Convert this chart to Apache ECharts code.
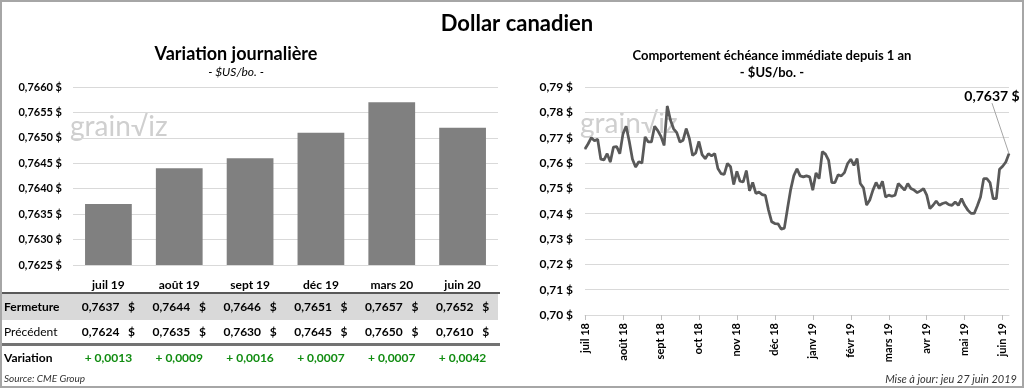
<!DOCTYPE html>
<html><head><meta charset="utf-8">
<script src="https://cdn.jsdelivr.net/npm/echarts@6/dist/echarts.min.js"></script>
<style>html,body{margin:0;padding:0;background:#fff}#c{width:1024px;height:388px}</style>
</head><body><div id="c"></div>
<script>
// ---- data ----
const contracts = ['juil 19', 'août 19', 'sept 19', 'déc 19', 'mars 20', 'juin 20'];
const closeValues = [0.7637, 0.7644, 0.7646, 0.7651, 0.7657, 0.7652];
const prevValues = [0.7624, 0.7635, 0.7630, 0.7645, 0.7650, 0.7610];
const variationValues = [0.0013, 0.0009, 0.0016, 0.0007, 0.0007, 0.0042];
const monthTicks = ['juil 18', 'août 18', 'sept 18', 'oct 18', 'nov 18', 'déc 18', 'janv 19', 'févr 19', 'mars 19', 'avr 19', 'mai 19', 'juin 19'];
const pointsPerMonth = 12;
const dailyValues = [
  0.7655, 0.7676, 0.7700, 0.7688, 0.7694, 0.7615, 0.7612, 0.7637, 0.7604, 0.7663,
  0.7665, 0.7637, 0.7715, 0.7745, 0.7685, 0.7615, 0.7584, 0.7605, 0.7600, 0.7703,
  0.7683, 0.7683, 0.7745, 0.7728, 0.7705, 0.7670, 0.7825, 0.7770, 0.7735, 0.7720,
  0.7683, 0.7690, 0.7736, 0.7696, 0.7630, 0.7640, 0.7685, 0.7633, 0.7617, 0.7637,
  0.7628, 0.7637, 0.7578, 0.7558, 0.7555, 0.7598, 0.7585, 0.7515, 0.7567, 0.7528,
  0.7525, 0.7570, 0.7490, 0.7523, 0.7480, 0.7485, 0.7475, 0.7472, 0.7414, 0.7368,
  0.7361, 0.7360, 0.7339, 0.7343, 0.7420, 0.7495, 0.7550, 0.7577, 0.7549, 0.7545,
  0.7549, 0.7545, 0.7493, 0.7561, 0.7538, 0.7645, 0.7635, 0.7610, 0.7523, 0.7523,
  0.7554, 0.7549, 0.7562, 0.7598, 0.7615, 0.7591, 0.7617, 0.7519, 0.7502, 0.7434,
  0.7454, 0.7493, 0.7523, 0.7499, 0.7528, 0.7466, 0.7473, 0.7469, 0.7473, 0.7519,
  0.7506, 0.7493, 0.7519, 0.7499, 0.7493, 0.7483, 0.7490, 0.7499, 0.7473, 0.7420,
  0.7433, 0.7450, 0.7433, 0.7440, 0.7444, 0.7436, 0.7433, 0.7446, 0.7433, 0.7459,
  0.7433, 0.7414, 0.7401, 0.7401, 0.7431, 0.7466, 0.7538, 0.7538, 0.7523, 0.7459,
  0.7459, 0.7575, 0.7587, 0.7604, 0.7637
];

// ---- helpers ----
const FONT = 'Lato';
const fmt = (v, d) => v.toFixed(d).replace('.', ',');
const isTick = (i) => i % pointsPerMonth === 0;

function rowAxis(offset, formatter, style) {
  return {
    type: 'category', gridIndex: 0, data: contracts, position: 'bottom', offset: offset,
    axisLine: { show: false }, axisTick: { show: false }, splitLine: { show: false },
    axisLabel: Object.assign({ interval: 0, margin: 0, fontFamily: FONT, fontSize: 12, fontWeight: 'bold', color: '#000', formatter: formatter }, style || {})
  };
}

const chart = echarts.init(document.getElementById('c'), null, { renderer: 'canvas' });
const lastIdx = dailyValues.length - 1;

chart.setOption({
  animation: false,
  textStyle: { fontFamily: FONT },
  title: [
    { text: 'Dollar canadien', left: 512, top: 8, textAlign: 'center',
      textStyle: { fontFamily: FONT, fontSize: 22, fontWeight: 'bold', color: '#000' } },
    { text: 'Variation journalière', subtext: '- $US/bo. -', left: 231, top: 40, textAlign: 'center', itemGap: 3,
      textStyle: { fontFamily: FONT, fontSize: 18, fontWeight: 'bold', color: '#000' },
      subtextStyle: { fontFamily: FONT, fontSize: 12, fontStyle: 'italic', color: '#000' } },
    { text: 'Comportement échéance immédiate depuis 1 an', subtext: '- $US/bo. -', left: 767, top: 44, textAlign: 'center', itemGap: 4,
      textStyle: { fontFamily: FONT, fontSize: 13, fontWeight: 'bold', color: '#000' },
      subtextStyle: { fontFamily: FONT, fontSize: 13, fontWeight: 'bold', color: '#000' } }
  ],
  grid: [
    { left: 73, right: 526, top: 87, bottom: 123 },
    { left: 585, right: 15, top: 87, bottom: 73 }
  ],
  xAxis: [
    { type: 'category', gridIndex: 0, data: contracts,
      axisLine: { show: false }, axisTick: { show: false },
      axisLabel: { interval: 0, margin: 14, fontFamily: FONT, fontSize: 12, fontWeight: 'bold', color: '#000' } },
    rowAxis(36, (v, i) => fmt(closeValues[i], 4) + '   $'),
    rowAxis(61, (v, i) => fmt(prevValues[i], 4) + '   $'),
    rowAxis(87, (v, i) => '+ ' + fmt(variationValues[i], 4), { color: '#118c11' }),
    { type: 'category', gridIndex: 1, boundaryGap: false,
      data: dailyValues.map((_, i) => String(i)),
      axisLine: { show: true, lineStyle: { color: '#d9d9d9' } },
      axisTick: { show: true, interval: (i) => isTick(i), length: 5, lineStyle: { color: '#bfbfbf' } },
      axisLabel: { interval: (i) => isTick(i), formatter: (v, i) => monthTicks[i / pointsPerMonth],
        rotate: 90, margin: 8, fontFamily: FONT, fontSize: 11, fontWeight: 'bold', color: '#000' } }
  ],
  yAxis: [
    { type: 'value', gridIndex: 0, min: 0.7625, max: 0.7660, interval: 0.0005,
      axisLine: { show: false }, axisTick: { show: false },
      splitLine: { lineStyle: { color: '#d9d9d9' } },
      axisLabel: { margin: 11, fontFamily: FONT, fontSize: 11, fontWeight: 'bold', color: '#000', formatter: (v) => fmt(v, 4) + ' $' } },
    { type: 'value', gridIndex: 1, min: 0.70, max: 0.79, interval: 0.01,
      axisLine: { show: false }, axisTick: { show: false },
      splitLine: { lineStyle: { color: '#d9d9d9' } },
      axisLabel: { margin: 12, fontFamily: FONT, fontSize: 12, fontWeight: 'bold', color: '#000', formatter: (v) => fmt(v, 2) + ' $' } }
  ],
  series: [
    { type: 'bar', xAxisIndex: 0, yAxisIndex: 0, data: closeValues, barWidth: '66%',
      itemStyle: { color: '#808080' } },
    { type: 'line', xAxisIndex: 4, yAxisIndex: 1,
      data: dailyValues.map((v, i) => i === lastIdx ? { value: v, label: { show: true } } : v),
      showSymbol: true, showAllSymbol: true, symbol: 'circle', symbolSize: 1,
      itemStyle: { color: '#595959' },
      lineStyle: { color: '#595959', width: 2.75 },
      label: { show: false, position: 'top', fontFamily: FONT, fontSize: 14, fontWeight: 'bold', color: '#000',
        formatter: (p) => fmt(p.value, 4) + ' $' },
      labelLine: { show: true, lineStyle: { color: '#a6a6a6', width: 1 } },
      labelLayout: { dx: -17, dy: -45 } }
  ],
  graphic: { elements: [
    { type: 'rect', z: -10, shape: { x: 2, y: 293, width: 496, height: 27 }, style: { fill: '#d9d9d9' } },
    { type: 'rect', z: 5, shape: { x: 2, y: 292, width: 498, height: 2 }, style: { fill: '#595959' } },
    { type: 'rect', z: 5, shape: { x: 2, y: 343, width: 498, height: 3 }, style: { fill: '#737373' } },
    { type: 'text', z: 5, x: 4, y: 307, style: { text: 'Fermeture', font: 'bold 12px Lato', fill: '#000', verticalAlign: 'middle' } },
    { type: 'text', z: 5, x: 4, y: 332, style: { text: 'Précédent', font: '12px Lato', fill: '#000', verticalAlign: 'middle' } },
    { type: 'text', z: 5, x: 4, y: 358, style: { text: 'Variation', font: 'bold 12px Lato', fill: '#000', verticalAlign: 'middle' } },
    { type: 'text', z: 5, x: 4, y: 379, style: { text: 'Source: CME Group', font: 'italic 10px Lato', fill: '#333', verticalAlign: 'middle' } },
    { type: 'text', z: 5, x: 1017, y: 379, style: { text: 'Mise à jour: jeu 27 juin 2019', font: 'italic 11px Lato', fill: '#333', align: 'right', verticalAlign: 'middle' } },
    { type: 'text', z: -5, x: 70, y: 127, style: { text: 'grain√iz', font: '28px Lato', fill: '#cfcfcf', verticalAlign: 'middle' } },
    { type: 'text', z: -5, x: 580, y: 124, style: { text: 'grain√iz', font: '28px Lato', fill: '#cfcfcf', verticalAlign: 'middle' } },
    { type: 'rect', z: 10, shape: { x: 1, y: 1, width: 1022, height: 386 }, style: { fill: 'none', stroke: '#a6a6a6', lineWidth: 2 } }
  ] }
});
</script>
</body></html>
